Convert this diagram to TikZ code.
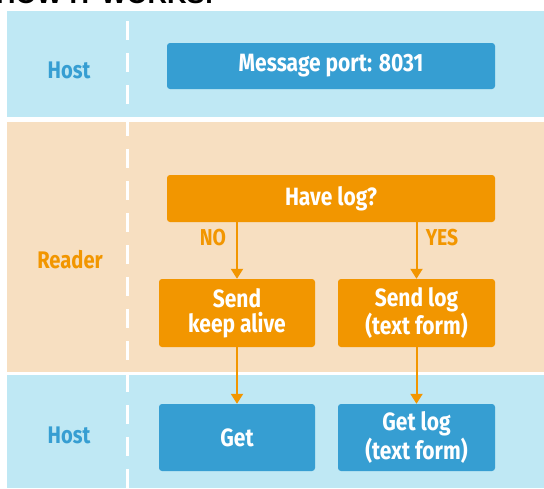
\documentclass[tikz,border=0pt]{standalone}
\usepackage{fontspec}
\setmainfont{Liberation Sans}
\newfontfamily\condfont{Fira Sans}[FakeStretch=0.84]
\usetikzlibrary{arrows.meta, positioning}

\definecolor{hostband}{HTML}{BFE8F4}
\definecolor{readerband}{HTML}{F7DFC1}
\definecolor{hostblue}{HTML}{369ED2}
\definecolor{readerorange}{HTML}{F29600}

\begin{document}
\begin{tikzpicture}[x=1pt, y=-1pt]
\useasboundingbox (0,0) rectangle (544,488);

% Define styles for the nodes
\tikzstyle{hostbox} = [rectangle, rounded corners=3pt, fill=hostblue, text=white, font=\condfont\bfseries\fontsize{25}{25}\selectfont, align=center, inner sep=0pt]
\tikzstyle{readerbox} = [hostbox, fill=readerorange]
\tikzstyle{lane} = [font=\condfont\bfseries\fontsize{24}{25}\selectfont]
\tikzstyle{answer} = [text=readerorange, font=\condfont\bfseries\fontsize{23}{24}\selectfont]
\tikzstyle{flow} = [draw=readerorange, line width=2pt, -{Triangle[width=12pt, length=10pt]}]

% Title (cut off at the top)
\node (title) [anchor=base west, inner sep=0pt, font=\bfseries\fontsize{27}{30}\selectfont] at (-4,3.5) {HOW IT WORKS:};

% Bands
\fill[hostband] (7,11) rectangle (544,117);
\fill[readerband] (7,122) rectangle (544,372);
\fill[hostband] (7,375) rectangle (544,488);
\draw[white, line width=3pt, dash pattern=on 19pt off 13pt] (127,21) -- (127,488);

% Lane labels
\node (hosttop) [lane, text=hostblue] at (69,70) {Host};
\node (reader) [lane, text=readerorange] at (70,260) {Reader};
\node (hostbottom) [lane, text=hostblue] at (69,435) {Host};

% Nodes
\node (port) [hostbox, minimum width=328pt, minimum height=46pt] at (331,66) {Message port: 8031};
\node (havelog) [readerbox, minimum width=328pt, minimum height=47pt] at (331,198.5) {Have log?};
\node (keepalive) [readerbox, minimum width=156pt, minimum height=68pt] at (237,313) {Send\\keep alive};
\node (sendlog) [readerbox, minimum width=157pt, minimum height=68pt] at (416.5,313) {Send log\\(text form)};
\node (get) [hostbox, minimum width=156pt, minimum height=67pt] at (237,437.5) {Get};
\node (getlog) [hostbox, minimum width=157pt, minimum height=67pt] at (416.5,437.5) {Get log\\(text form)};

% Arrows
\draw[flow] (keepalive.north |- havelog.south) -- (keepalive.north);
\draw[flow] (sendlog.north |- havelog.south) -- (sendlog.north);
\draw[flow] (keepalive) -- (get);
\draw[flow] (sendlog) -- (getlog);

% Answers
\node (no) [answer] at (213,238) {NO};
\node (yes) [answer] at (442,238) {YES};

\end{tikzpicture}
\end{document}
